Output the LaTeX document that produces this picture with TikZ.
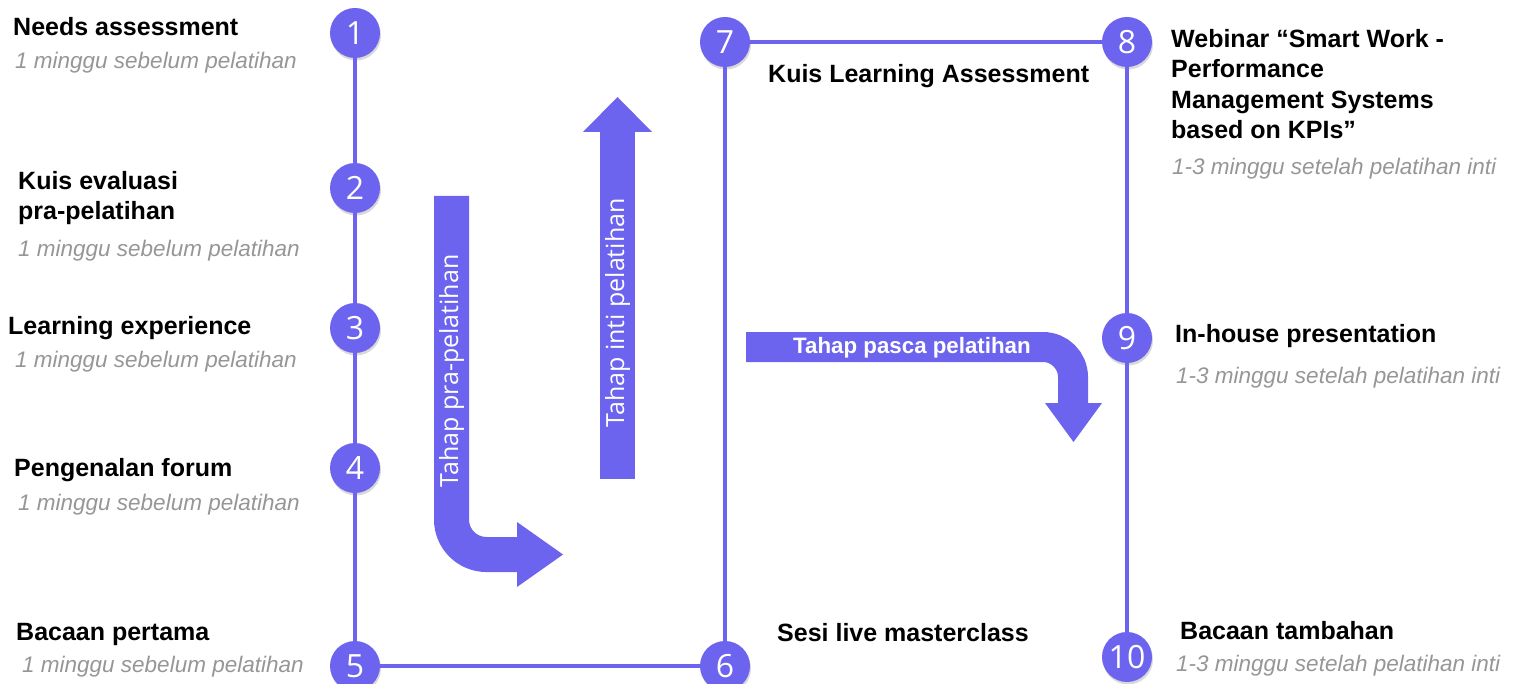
\documentclass[tikz,border=0pt]{standalone}
\usepackage{fontspec}
\setmainfont{Liberation Sans}
\newfontfamily\numfont{Open Sans}
\definecolor{lilac}{RGB}{108,99,238}
\definecolor{mist}{RGB}{150,150,150}
\usepackage{tikz}
\usetikzlibrary{positioning}
\usetikzlibrary{shadows}

\tikzset{
  num/.style={circle, fill=lilac, minimum size=50pt, inner sep=0pt, text=white,
    font=\numfont\fontsize{32}{32}\selectfont,
    drop shadow={opacity=0.3, shadow xshift=1pt, shadow yshift=-2.5pt}},
  link/.style={draw=lilac, line width=4pt},
  task/.style={anchor=west, inner sep=0pt, align=left, font=\bfseries\fontsize{25}{30.5}\selectfont},
  when/.style={anchor=west, inner sep=0pt, text=mist, font=\itshape\fontsize{22.5}{27}\selectfont},
  phase/.style={text=white, inner sep=0pt, font=\numfont\fontsize{25}{25}\selectfont},
  bigarrow/.style={draw=lilac, line width=#1}
}

\begin{document}
\begin{tikzpicture}[x=1pt, y=-1pt]
         \useasboundingbox (0,0) rectangle (1522,684);
         % phase arrows
         \draw[bigarrow=35pt, rounded corners=35pt] (451.5,196) -- (451.5,554.5) -- (518,554.5);
         \fill[lilac] (517,522) -- (563,554.5) -- (517,587) -- cycle;
         \fill[lilac] (600,479) rectangle (635,131);
         \fill[lilac] (583,132) -- (617.5,97) -- (652,132) -- cycle;
         \draw[bigarrow=30pt, rounded corners=30pt] (746,347) -- (1073,347) -- (1073,404);
         \fill[lilac] (1045,403) -- (1073.5,442) -- (1102,403) -- cycle;
         \node[phase, rotate=90] (pre) at (451.5,371) {Tahap pra-pelatihan};
         \node[phase, rotate=90] (core) at (617.5,313) {Tahap inti pelatihan};
         \node[phase, font=\bfseries\fontsize{22.3}{22.3}\selectfont] (post) at (912,348) {Tahap pasca pelatihan};
         % timeline
         \node[num] (n1) at (355,33) {1};
         \node[num] (n2) at (355,188) {2};
         \node[num] (n3) at (355,328) {3};
         \node[num] (n4) at (355,468) {4};
         \node[num] (n5) at (355,666) {5};
         \node[num] (n6) at (725,666) {6};
         \node[num] (n7) at (725,42) {7};
         \node[num] (n8) at (1127,42) {8};
         \node[num] (n9) at (1127,338) {9};
         \node[num] (n10) at (1127,657) {10};
         \draw[link] (n1) -- (n2) -- (n3) -- (n4) -- (n5) -- (n6) -- (n7) -- (n8) -- (n9) -- (n10);
         % steps
         \node[task] (t1) at (13,27) {Needs assessment};
         \node[when] (w1) at (15,63) {1 minggu sebelum pelatihan};
         \node[task] (t2) at (18,198) {Kuis evaluasi\\pra-pelatihan};
         \node[when] (w2) at (18,251) {1 minggu sebelum pelatihan};
         \node[task] (t3) at (8,328) {Learning experience};
         \node[when] (w3) at (15,362) {1 minggu sebelum pelatihan};
         \node[task] (t4) at (14,470) {Pengenalan forum};
         \node[when] (w4) at (18,505) {1 minggu sebelum pelatihan};
         \node[task] (t5) at (16,634) {Bacaan pertama};
         \node[when] (w5) at (22,667) {1 minggu sebelum pelatihan};
         \node[task] (t6) at (777,633) {Sesi live masterclass};
         \node[task] (t7) at (768,76) {Kuis Learning Assessment};
         \node[task] (t8) at (1171,84) {Webinar “Smart Work -\\Performance\\Management Systems\\based on KPIs”};
         \node[when] (w8) at (1172,169) {1-3 minggu setelah pelatihan inti};
         \node[task] (t9) at (1175,336) {In-house presentation};
         \node[when] (w9) at (1176,378) {1-3 minggu setelah pelatihan inti};
         \node[task] (t10) at (1180,631) {Bacaan tambahan};
         \node[when] (w10) at (1176,666) {1-3 minggu setelah pelatihan inti};
      \end{tikzpicture}
\end{document}
